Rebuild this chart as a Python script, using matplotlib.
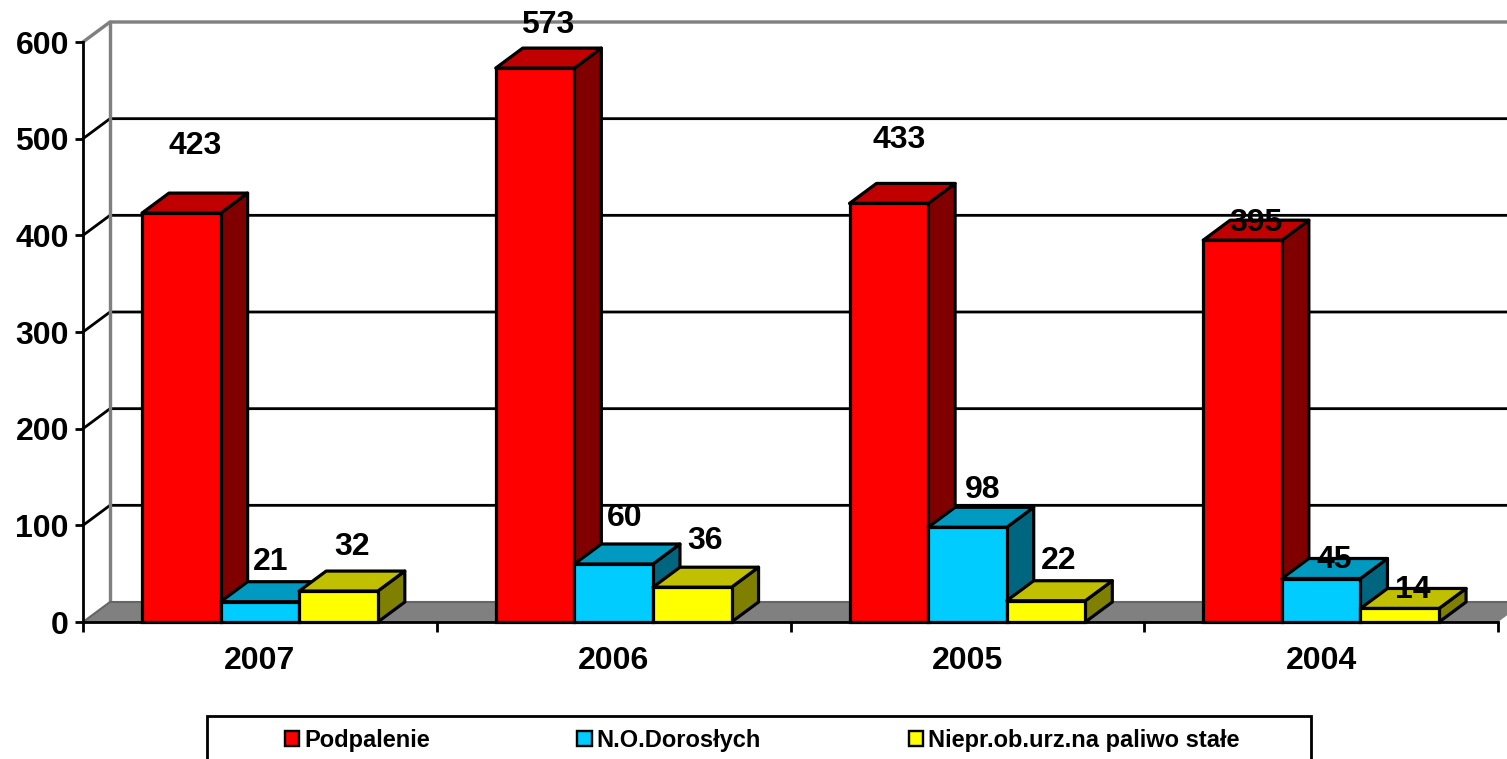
import matplotlib
matplotlib.use('Agg')
import matplotlib.pyplot as plt
from matplotlib.patches import Patch, Polygon, Rectangle

plt.rcParams['font.family'] = ['Liberation Sans', 'DejaVu Sans']
plt.rcParams['font.weight'] = 'bold'

# Data
years = ['2007', '2006', '2005', '2004']
podpalenie = [423, 573, 433, 395]
dorosli = [21, 60, 98, 45]
paliwo = [32, 36, 22, 14]
series_names = ['Podpalenie', 'N.O.Dorosłych', 'Niepr.ob.urz.na paliwo stałe']
y_ticks = [0, 100, 200, 300, 400, 500, 600]

# Colours: front, top, side
red = ['#ff0000', '#c00000', '#800000']
blue = ['#00ccff', '#0099c0', '#006680']
yellow = ['#ffff00', '#c0c000', '#808000']

# Label offsets from the bar's top front edge, pixels (right, up)
red_offs = [(14, 67), (13, 43), (10, 63), (13, 17)]
blue_offs = [(11, 40), (11, 46), (15, 37), (13, 18)]
yellow_offs = [(14, 44), (13, 46), (13, 40), (13, 18)]

W, H = 1507, 759
fig = plt.figure(figsize=(W / 100, H / 100), dpi=100)
ax = fig.add_axes([83 / W, (H - 622) / H, 1415 / W, 580 / H])
ax.set_xlim(0, 4)
ax.set_ylim(0, 600)

# Depth of the fake 3D box, in data units
dx = 27 / (1415 / 4)
dy = 20 / (580 / 600)
bar_w = 78.6 / (1415 / 4)
start = 59 / (1415 / 4)
px = 72 / 100  # one pixel in points


def poly(pts, color, z, ec='black', lw=3.2 * px):
    ax.add_patch(Polygon(pts, closed=True, facecolor=color, edgecolor=ec, linewidth=lw,
                         joinstyle='round', clip_on=False, zorder=z))


# Walls and floor
poly([(0, 0), (dx, dy), (4 + dx, dy), (4, 0)], '#808080', 1, ec='none', lw=0)
ax.plot([0, dx, 4 + dx], [0, dy, dy], color='#666666', lw=1.5, clip_on=False, zorder=1.2)
for t in y_ticks[1:-1]:
    ax.plot([0, dx, 4 + dx], [t, t + dy, t + dy], color='black', lw=2.8 * px, clip_on=False, zorder=1.1)
ax.plot([0, dx, 4 + dx], [600, 600 + dy, 600 + dy], color='#808080', lw=3.4 * px, clip_on=False, zorder=1.1)
ax.plot([dx, dx], [dy, 600 + dy], color='#808080', lw=3.4 * px, clip_on=False, zorder=1.15)

# Bars
z = 3
for i, year in enumerate(years):
    for j, (vals, cols) in enumerate([(podpalenie, red), (dorosli, blue), (paliwo, yellow)]):
        x0 = i + start + j * bar_w
        x1 = x0 + bar_w
        v = vals[i]
        poly([(x1, 0), (x1 + dx, dy), (x1 + dx, v + dy), (x1, v)], cols[2], z)
        poly([(x0, v), (x1, v), (x1 + dx, v + dy), (x0 + dx, v + dy)], cols[1], z)
        ax.bar(x0, v, width=bar_w, align='edge', color=cols[0], edgecolor='black',
               linewidth=3.2 * px, clip_on=False, zorder=z + 0.5)
        z += 1

# Data labels
for j, (vals, offs) in enumerate([(podpalenie, red_offs), (dorosli, blue_offs), (paliwo, yellow_offs)]):
    for i, v in enumerate(vals):
        ax.annotate(str(v), (i + start + (j + 0.5) * bar_w, v),
                    xytext=(offs[i][0] * px, offs[i][1] * px), textcoords='offset points',
                    ha='center', va='center', fontsize=23, fontweight='bold',
                    annotation_clip=False, zorder=100)

# Axes
for s in ['top', 'right']:
    ax.spines[s].set_visible(False)
ax.patch.set_visible(False)
for s in ['left', 'bottom']:
    ax.spines[s].set_linewidth(2.8 * px)
    ax.spines[s].set_zorder(2)
ax.spines['bottom'].set_zorder(50)
ax.set_yticks(y_ticks)
ax.set_yticklabels([str(t) for t in y_ticks], fontsize=23, fontweight='bold')
ax.tick_params(axis='y', length=8 * px, width=2.8 * px, pad=4.4)
ax.set_xticks([0, 1, 2, 3, 4])
ax.set_xticklabels([])
ax.tick_params(axis='x', which='major', length=10 * px, width=2.8 * px)
ax.set_xticks([0.5, 1.5, 2.5, 3.5], minor=True)
ax.set_xticklabels(years, minor=True, fontsize=23, fontweight='bold')
ax.tick_params(axis='x', which='minor', length=0, pad=17)

# Legend, box runs off the bottom of the figure
fig.add_artist(Rectangle((207 / W, -0.02), (1311 - 207) / W, (H - 716) / H + 0.02,
                         transform=fig.transFigure, facecolor='white', edgecolor='black',
                         linewidth=2.8 * px))
handles = [Patch(facecolor=c[0], edgecolor='black', linewidth=2.4 * px) for c in [red, blue, yellow]]
leg = fig.legend(handles, series_names, ncol=3, loc='center', frameon=False,
                 bbox_to_anchor=(762 / W, (H - 740.5) / H), prop={'family': 'Liberation Sans', 'weight': 'bold', 'size': 17},
                 handlelength=0.62, handleheight=0.62, handletextpad=0.2, columnspacing=6.25,
                 borderpad=0, borderaxespad=0)
leg.set_zorder(10)

fig.savefig('out.png', dpi=100)
